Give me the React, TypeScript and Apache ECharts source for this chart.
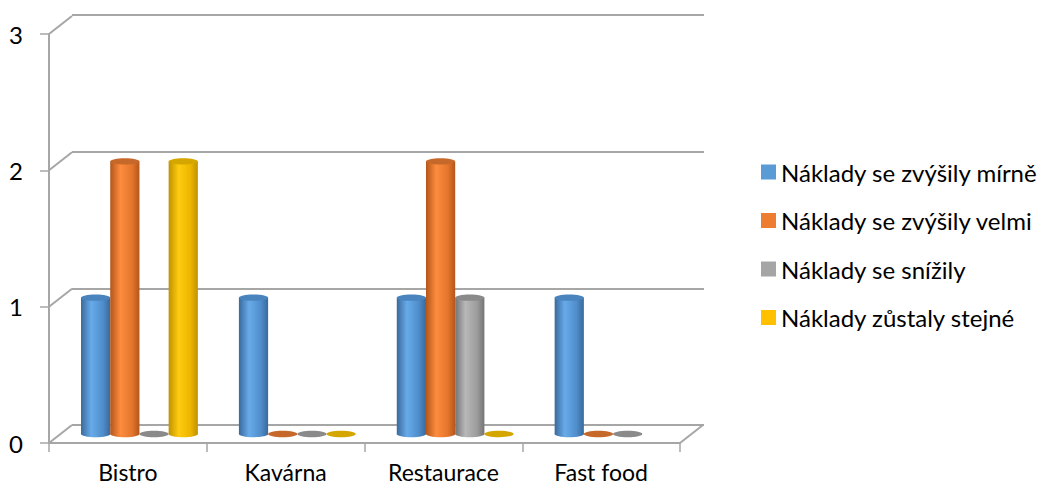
import React, { useEffect, useRef } from "react";
import * as echarts from "echarts";

const categories = ["Bistro", "Kavárna", "Restaurace", "Fast food"];
const seriesNames = [
  "Náklady se zvýšily mírně",
  "Náklady se zvýšily velmi",
  "Náklady se snížily",
  "Náklady zůstaly stejné",
];
const mirne = [1, 1, 1, 1];
const velmi = [2, 0, 2, 0];
const snizily = [0, 0, 1, 0];
const stejne: (number | null)[] = [2, 0, 0, null];
const yTicks = [0, 1, 2, 3];

const seriesValues = [mirne, velmi, snizily, stejne];
const legendColors = ["#5B9BD5", "#ED7D31", "#A5A5A5", "#FFC000"];
const shades = [
  { edge: "#396a9c", light: "#68abea", mid: "#4f8dcb", top: "#4a84bf" },
  { edge: "#b3561a", light: "#fd8c3e", mid: "#e4752c", top: "#c7682b" },
  { edge: "#747474", light: "#b8b8b8", mid: "#9c9c9c", top: "#8a8a8a" },
  { edge: "#c09200", light: "#ffcc10", mid: "#ecb500", top: "#d5a600" },
];

const FONT = "Lato, 'Open Sans', sans-serif";
const DX = 23;
const DY = 18;
const GRAY = "#a6a6a6";

export default function App() {
  const ref = useRef<HTMLDivElement>(null);
  useEffect(() => {
    if (!ref.current) return;
    const chart = echarts.init(ref.current, undefined, { renderer: "svg" });

    const barSeries = seriesValues.map((vals, si) => {
      const s = shades[si];
      const data: number[][] = [];
      vals.forEach((v, ci) => {
        if (v !== null && v !== undefined) data.push([ci, v as number]);
      });
      return {
        type: "custom",
        name: seriesNames[si],
        xAxisIndex: 2,
        yAxisIndex: 2,
        z: 5,
        itemStyle: { color: legendColors[si] },
        data,
        renderItem: (params: any, api: any) => {
          const ci = api.value(0);
          const v = api.value(1);
          const band = api.size([1, 0])[0];
          const w = band * 0.185;
          const c = api.coord([ci, v]);
          const base = api.coord([ci, 0]);
          const cx = c[0] + (si - 1.5) * w;
          const rx = w / 2;
          const ry = 3.2;
          const grad = new echarts.graphic.LinearGradient(0, 0, 1, 0, [
            { offset: 0, color: s.edge },
            { offset: 0.35, color: s.light },
            { offset: 0.75, color: s.mid },
            { offset: 1, color: s.edge },
          ]);
          if (v === 0) {
            return {
              type: "ellipse",
              shape: { cx, cy: base[1], rx, ry },
              style: { fill: s.top },
            };
          }
          return {
            type: "group",
            children: [
              {
                type: "ellipse",
                shape: { cx, cy: base[1], rx, ry },
                style: { fill: grad },
              },
              {
                type: "rect",
                shape: { x: cx - rx, y: c[1], width: w, height: base[1] - c[1] },
                style: { fill: grad },
              },
              {
                type: "ellipse",
                shape: { cx, cy: c[1], rx, ry },
                style: { fill: s.top },
              },
            ],
          };
        },
      };
    });

    const frameSeries = {
      type: "custom",
      xAxisIndex: 0,
      yAxisIndex: 0,
      z: 1,
      silent: true,
      data: yTicks.map((v) => [0, v]),
      renderItem: (params: any, api: any) => {
        const cs = params.coordSys;
        const v = api.value(1);
        const y = api.coord([0, v])[1];
        const children: any[] = [
          {
            type: "line",
            shape: { x1: cs.x, y1: y, x2: cs.x + DX, y2: y - DY },
            style: { stroke: GRAY, lineWidth: 2 },
          },
        ];
        if (v === 0) {
          children.push({
            type: "line",
            shape: {
              x1: cs.x + cs.width,
              y1: y,
              x2: cs.x + cs.width + DX,
              y2: y - DY,
            },
            style: { stroke: GRAY, lineWidth: 2 },
          });
        }
        return { type: "group", children };
      },
    };

    const option: any = {
      animation: false,
      backgroundColor: "#ffffff",
      textStyle: { fontFamily: FONT },
      legend: {
        orient: "vertical",
        left: 761,
        top: 160,
        padding: 0,
        itemWidth: 15,
        itemHeight: 15,
        itemGap: 24.5,
        icon: "rect",
        data: seriesNames,
        selectedMode: false,
        textStyle: { fontSize: 24, lineHeight: 24, color: "#000", fontFamily: FONT },
      },
      grid: [
        { left: 49, top: 34, width: 631, height: 409 },
        { left: 72, top: 15, width: 632, height: 410 },
        { left: 60.5, top: 25, width: 631.5, height: 409 },
      ],
      xAxis: [
        {
          type: "category",
          gridIndex: 0,
          data: categories,
          axisLine: { show: true, lineStyle: { color: GRAY, width: 2 } },
          axisTick: { show: true, length: 9, lineStyle: { color: GRAY, width: 1.5 } },
          axisLabel: {
            fontSize: 23,
            lineHeight: 23,
            color: "#000",
            margin: 17,
            fontFamily: FONT,
          },
          splitLine: { show: false },
        },
        { type: "category", gridIndex: 1, data: categories, show: false },
        { type: "category", gridIndex: 2, data: categories, show: false },
      ],
      yAxis: [
        {
          type: "value",
          gridIndex: 0,
          min: 0,
          max: 3,
          interval: 1,
          axisLine: { show: true, lineStyle: { color: GRAY, width: 2 } },
          axisTick: { show: true, length: 9, lineStyle: { color: GRAY, width: 1.5 } },
          axisLabel: { fontSize: 24, color: "#000", margin: 26, fontFamily: FONT },
          splitLine: { show: false },
        },
        {
          type: "value",
          gridIndex: 1,
          min: 0,
          max: 3,
          interval: 1,
          axisLine: { show: false },
          axisTick: { show: false },
          axisLabel: { show: false },
          splitLine: { show: true, lineStyle: { color: GRAY, width: 2 } },
        },
        { type: "value", gridIndex: 2, min: 0, max: 3, interval: 1, show: false },
      ],
      series: [frameSeries, ...barSeries],
    };
    chart.setOption(option);
    return () => chart.dispose();
  }, []);
  return (
    <div
      ref={ref}
      style={{ position: "fixed", left: 0, top: 0, width: 1046, height: 486 }}
    />
  );
}
